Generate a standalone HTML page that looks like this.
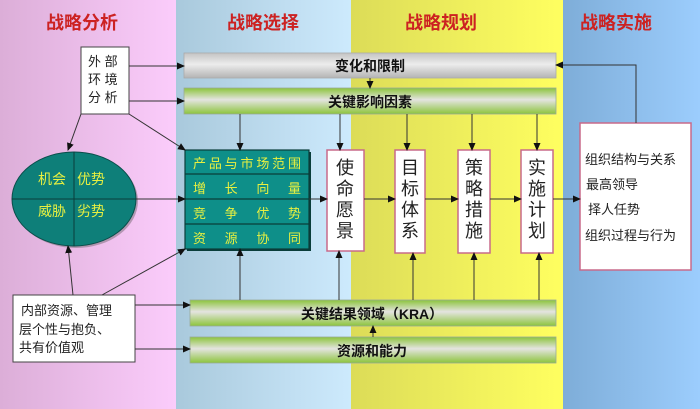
<!DOCTYPE html>
<html><head><meta charset="utf-8"><style>
html,body{margin:0;padding:0;width:700px;height:409px;overflow:hidden;}
svg{display:block;font-family:"Liberation Sans","Noto Sans CJK SC",sans-serif;}
</style></head><body>
<svg width="700" height="409" viewBox="0 0 700 409" xmlns="http://www.w3.org/2000/svg">
<defs>
<linearGradient id="pk" x1="0" x2="1"><stop offset="0" stop-color="#dcaed8"/><stop offset="1" stop-color="#fbccfb"/></linearGradient>
<linearGradient id="bl" x1="0" x2="1"><stop offset="0" stop-color="#a9c9dc"/><stop offset="1" stop-color="#cdeafd"/></linearGradient>
<linearGradient id="yl" x1="0" x2="1"><stop offset="0" stop-color="#dcdc58"/><stop offset="1" stop-color="#ffff60"/></linearGradient>
<linearGradient id="db" x1="0" x2="1"><stop offset="0" stop-color="#7eadd8"/><stop offset="1" stop-color="#9ccdfd"/></linearGradient>
<linearGradient id="gy" x1="0" y1="0" x2="0" y2="1"><stop offset="0" stop-color="#c4c4c4"/><stop offset="0.45" stop-color="#ececec"/><stop offset="1" stop-color="#b4b4b4"/></linearGradient>
<linearGradient id="gr" x1="0" y1="0" x2="0" y2="1"><stop offset="0" stop-color="#8cc43c"/><stop offset="0.45" stop-color="#e4e4e0"/><stop offset="1" stop-color="#8cc43c"/></linearGradient>
<marker id="a" markerWidth="8" markerHeight="8" refX="7" refY="4" orient="auto" markerUnits="userSpaceOnUse"><path d="M0,0.5 L8,4 L0,7.5z" fill="#111"/></marker>
</defs>
<rect x="0" y="0" width="176" height="409" fill="url(#pk)"/>
<rect x="176" y="0" width="175" height="409" fill="url(#bl)"/>
<rect x="351" y="0" width="212" height="409" fill="url(#yl)"/>
<rect x="563" y="0" width="137" height="409" fill="url(#db)"/>
<g fill="#cc2222" font-size="18" font-weight="bold" text-anchor="middle">
<text x="82" y="29">战略分析</text><text x="263" y="29">战略选择</text><text x="441" y="29">战略规划</text><text x="616" y="29">战略实施</text>
</g>
<rect x="184" y="53" width="372" height="25" fill="url(#gy)" stroke="#aaa" stroke-width="0.8"/>
<text x="370" y="71" font-size="14" font-weight="bold" text-anchor="middle" fill="#111">变化和限制</text>
<rect x="184" y="88" width="372" height="26" fill="url(#gr)" stroke="#9a9" stroke-width="0.8"/>
<text x="370" y="107" font-size="14" font-weight="bold" text-anchor="middle" fill="#111">关键影响因素</text>
<rect x="190" y="300" width="366" height="26" fill="url(#gr)" stroke="#9a9" stroke-width="0.8"/>
<text x="372" y="319" font-size="14" font-weight="bold" text-anchor="middle" fill="#111">关键结果领域（KRA）</text>
<rect x="190" y="337" width="366" height="26" fill="url(#gr)" stroke="#9a9" stroke-width="0.8"/>
<text x="372" y="356" font-size="14" font-weight="bold" text-anchor="middle" fill="#111">资源和能力</text>
<rect x="81" y="47" width="48" height="67" fill="#fff" stroke="#444"/>
<g font-size="13" fill="#222"><text x="88" y="66">外 部</text><text x="88" y="84">环 境</text><text x="88" y="102">分 析</text></g>
<ellipse cx="76" cy="201" rx="62" ry="47" fill="#555" opacity="0.4"/>
<ellipse cx="74" cy="199" rx="62" ry="47" fill="#0e7f79" stroke="#0a4d4a"/>
<line x1="74" y1="152" x2="74" y2="246" stroke="#0a3d3a"/><line x1="12" y1="199" x2="136" y2="199" stroke="#0a3d3a"/>
<g font-size="14" fill="#e8f040"><text x="38" y="184">机会</text><text x="77" y="184">优势</text><text x="38" y="216">威胁</text><text x="77" y="216">劣势</text></g>
<rect x="187" y="152" width="124" height="99" fill="#0a3d3a"/>
<rect x="185" y="150" width="124" height="99" fill="#0e8f89" stroke="#0a3d3a" stroke-width="1.2"/>
<g stroke="#0a3d3a" stroke-width="1.2"><line x1="185" y1="174" x2="309" y2="174"/><line x1="185" y1="199" x2="309" y2="199"/><line x1="185" y1="224" x2="309" y2="224"/></g>
<g font-size="13" fill="#e8f040">
<text x="193" y="168" textLength="108">产品与市场范围</text>
<text x="193" y="193" textLength="108" lengthAdjust="spacing">增　长　向　量</text>
<text x="193" y="218" textLength="108" lengthAdjust="spacing">竞　争　优　势</text>
<text x="193" y="243" textLength="108" lengthAdjust="spacing">资　源　协　同</text>
</g>
<g fill="#fff" stroke="#c86a8a" stroke-width="1.5">
<rect x="327" y="150" width="37" height="101"/><rect x="395" y="150" width="30" height="103"/>
<rect x="458" y="150" width="32" height="103"/><rect x="521" y="150" width="32" height="103"/>
<rect x="580" y="123" width="111" height="147"/>
</g>
<g font-size="18" fill="#222" text-anchor="middle">
<text x="345" y="174">使</text><text x="345" y="195">命</text><text x="345" y="216">愿</text><text x="345" y="237">景</text>
<text x="410" y="174">目</text><text x="410" y="195">标</text><text x="410" y="216">体</text><text x="410" y="237">系</text>
<text x="474" y="174">策</text><text x="474" y="195">略</text><text x="474" y="216">措</text><text x="474" y="237">施</text>
<text x="537" y="174">实</text><text x="537" y="195">施</text><text x="537" y="216">计</text><text x="537" y="237">划</text>
</g>
<g font-size="13" fill="#222"><text x="585" y="164">组织结构与关系</text><text x="586" y="189">最高领导</text><text x="588" y="214">择人任势</text><text x="585" y="240">组织过程与行为</text></g>
<rect x="13" y="295" width="122" height="67" fill="#fff" stroke="#444"/>
<g font-size="13" fill="#222"><text x="21" y="315">内部资源、管理</text><text x="19" y="334">层个性与抱负、</text><text x="19" y="352">共有价值观</text></g>
<g stroke="#333" stroke-width="1" marker-end="url(#a)" fill="none">
<line x1="129" y1="66" x2="184" y2="66"/><line x1="129" y1="101" x2="184" y2="101"/>
<line x1="81" y1="114" x2="68" y2="150"/><line x1="129" y1="114" x2="185" y2="150"/>
<line x1="73" y1="295" x2="68" y2="246"/><line x1="102" y1="295" x2="185" y2="249"/>
<line x1="135" y1="305" x2="190" y2="305"/><line x1="135" y1="349" x2="190" y2="349"/>
<line x1="136" y1="199" x2="185" y2="199"/><line x1="309" y1="199" x2="327" y2="199"/>
<line x1="364" y1="199" x2="395" y2="199"/><line x1="425" y1="199" x2="458" y2="199"/>
<line x1="490" y1="199" x2="521" y2="199"/><line x1="553" y1="199" x2="580" y2="199"/>
<line x1="370" y1="78" x2="370" y2="88"/>
<line x1="240" y1="114" x2="240" y2="150"/><line x1="340" y1="114" x2="340" y2="150"/>
<line x1="407" y1="114" x2="407" y2="150"/><line x1="472" y1="114" x2="472" y2="150"/><line x1="537" y1="114" x2="537" y2="150"/>
<line x1="240" y1="300" x2="240" y2="249"/><line x1="339" y1="300" x2="339" y2="251"/>
<line x1="413" y1="300" x2="413" y2="253"/><line x1="474" y1="300" x2="474" y2="253"/><line x1="539" y1="300" x2="539" y2="253"/>
<line x1="373" y1="337" x2="373" y2="326"/>
<polyline points="636,123 636,65 556,65"/>
</g>
</svg>
</body></html>
